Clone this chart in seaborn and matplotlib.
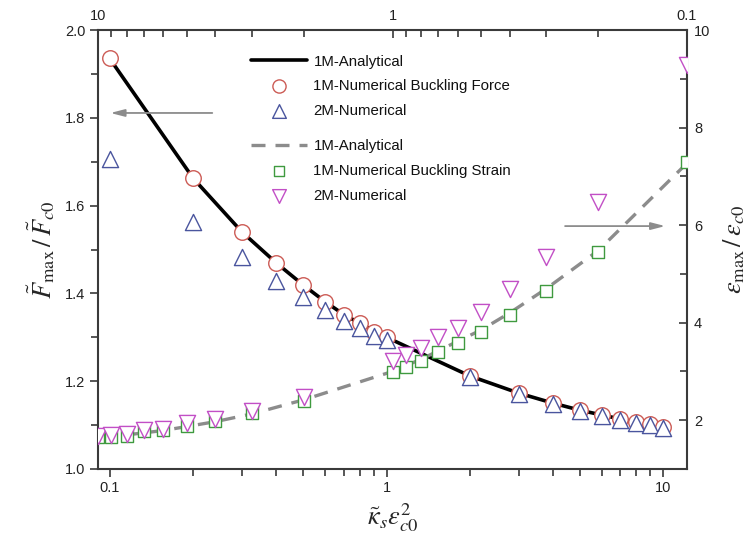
import matplotlib
matplotlib.use("Agg")
import matplotlib.pyplot as plt
import seaborn as sns
from matplotlib.ticker import MultipleLocator, FuncFormatter, NullFormatter, LogLocator, FixedLocator

# ---------------- data ----------------
# Force branch: bottom x axis (kappa_s * eps_c0^2), left y axis
kappa = [0.1, 0.2, 0.3, 0.4, 0.5, 0.6, 0.7, 0.8, 0.9, 1.0,
         2, 3, 4, 5, 6, 7, 8, 9, 10]
F_analytical = [1.934, 1.662, 1.540, 1.469, 1.419, 1.381, 1.352, 1.332, 1.314, 1.300,
                1.212, 1.173, 1.150, 1.134, 1.123, 1.114, 1.107, 1.102, 1.096]
F_1M_num = [1.936, 1.663, 1.540, 1.469, 1.419, 1.380, 1.351, 1.333, 1.312, 1.301,
            1.212, 1.173, 1.150, 1.134, 1.123, 1.114, 1.107, 1.102, 1.096]
F_2M_num = [1.706, 1.563, 1.483, 1.428, 1.392, 1.362, 1.337, 1.321, 1.303, 1.294,
            1.209, 1.170, 1.148, 1.132, 1.121, 1.112, 1.105, 1.100, 1.094]

# Strain branch: top x axis (reversed log), right y axis
t_top = [10, 9, 8, 7, 6, 5, 4, 3, 2, 1.0, 0.9, 0.8, 0.7, 0.6, 0.5, 0.4, 0.3, 0.2, 0.1]
eps_analytical = [1.63, 1.66, 1.70, 1.74, 1.79, 1.87, 1.97, 2.13, 2.42, 3.00,
                  3.12, 3.25, 3.42, 3.62, 3.85, 4.20, 4.70, 5.48, 7.27]
eps_1M_num = [1.65, 1.66, 1.68, 1.77, 1.79, 1.89, 1.98, 2.14, 2.40, 2.98,
              3.10, 3.22, 3.39, 3.59, 3.80, 4.15, 4.64, 5.44, 7.29]
eps_2M_num = [1.68, 1.70, 1.72, 1.80, 1.83, 1.94, 2.03, 2.18, 2.48, 3.22,
              3.33, 3.49, 3.70, 3.90, 4.21, 4.68, 5.34, 6.47, 9.28]

labels_force = ["1M-Analytical", "1M-Numerical Buckling Force", "2M-Numerical"]
labels_strain = ["1M-Analytical", "1M-Numerical Buckling Strain", "2M-Numerical"]

# ---------------- style ----------------
sns.set_theme(style="ticks")
plt.rcParams["font.family"] = ["Liberation Sans", "DejaVu Sans"]
plt.rcParams["mathtext.fontset"] = "stix"

RED = "#cc5b55"
BLUE = "#4a559e"
GREEN = "#3f9a3f"
MAGENTA = "#c24fc6"
GRAY = "#8c8c8c"
SPINE = "#3a3a3a"

fig = plt.figure(figsize=(7.56, 5.5), dpi=100)
pos = [98 / 756, 1 - 469 / 550, (687 - 98) / 756, (469 - 30) / 550]
ax = fig.add_axes(pos)
ax2 = fig.add_axes(pos, facecolor="none")

# ---------------- force branch ----------------
sns.lineplot(x=kappa, y=F_analytical, ax=ax, color="black", linewidth=2.6,
             label=labels_force[0], zorder=2)
sns.scatterplot(x=kappa, y=F_1M_num, ax=ax, marker="o", s=125, color=RED,
                facecolors="white", edgecolors=RED, linewidth=1.0,
                label=labels_force[1], zorder=3)
sns.scatterplot(x=kappa, y=F_2M_num, ax=ax, marker="^", s=135, color=BLUE,
                facecolors="white", edgecolors=BLUE, linewidth=1.0,
                label=labels_force[2], zorder=4)

# ---------------- strain branch ----------------
sns.lineplot(x=t_top, y=eps_analytical, ax=ax2, color=GRAY, linewidth=2.4,
             linestyle=(0, (4.2, 3.0)), label=labels_strain[0], zorder=2)
sns.scatterplot(x=t_top, y=eps_1M_num, ax=ax2, marker="s", s=70, color=GREEN,
                facecolors="white", edgecolors=GREEN, linewidth=1.0,
                label=labels_strain[1], zorder=3)
sns.scatterplot(x=t_top, y=eps_2M_num, ax=ax2, marker="v", s=135, color=MAGENTA,
                facecolors="white", edgecolors=MAGENTA, linewidth=1.0,
                label=labels_strain[2], zorder=4)

h1, l1 = ax.get_legend_handles_labels()
h2, l2 = ax2.get_legend_handles_labels()
for a in (ax, ax2):
    if a.get_legend() is not None:
        a.get_legend().remove()

# ---------------- axes: bottom / left ----------------
ax.set_xscale("log")
ax.set_xlim(0.0905, 12.2)
ax.set_ylim(1.0, 2.0)
ax.xaxis.set_major_locator(FixedLocator([0.1, 1, 10]))
ax.xaxis.set_major_formatter(FuncFormatter(lambda v, p: f"{v:g}"))
ax.xaxis.set_minor_locator(LogLocator(base=10, subs=range(2, 10)))
ax.xaxis.set_minor_formatter(NullFormatter())
ax.yaxis.set_major_locator(MultipleLocator(0.2))
ax.yaxis.set_minor_locator(MultipleLocator(0.1))
ax.yaxis.set_major_formatter(FuncFormatter(lambda v, p: f"{v:.1f}"))
ax.tick_params(which="both", direction="out", color=SPINE, width=1.2,
               labelsize=10.5, labelcolor="#222222", top=False, right=False)
ax.tick_params(which="major", length=6, pad=3)
ax.tick_params(which="minor", length=5)
for s in ax.spines.values():
    s.set_color(SPINE)
    s.set_linewidth(1.5)
    s.set_visible(True)

# ---------------- axes: top / right ----------------
ax2.set_xscale("log")
ax2.set_xlim(10, 0.1)
ax2.set_ylim(1, 10)
ax2.xaxis.tick_top()
ax2.yaxis.tick_right()
ax2.xaxis.set_major_locator(FixedLocator([10, 1, 0.1]))
ax2.xaxis.set_major_formatter(FuncFormatter(lambda v, p: f"{v:g}"))
ax2.xaxis.set_minor_locator(LogLocator(base=10, subs=range(2, 10)))
ax2.xaxis.set_minor_formatter(NullFormatter())
ax2.yaxis.set_major_locator(MultipleLocator(2))
ax2.yaxis.set_minor_locator(MultipleLocator(1))
ax2.yaxis.set_major_formatter(FuncFormatter(lambda v, p: f"{v:g}"))
ax2.tick_params(which="both", direction="in", color=SPINE, width=1.2,
                labelsize=10.5, labelcolor="#222222",
                bottom=False, left=False, top=True, right=True,
                labeltop=True, labelright=True, labelbottom=False, labelleft=False)
ax2.tick_params(which="major", length=6, pad=5)
ax2.tick_params(which="minor", length=5)
for s in ax2.spines.values():
    s.set_visible(False)

# ---------------- labels ----------------
ax.set_ylabel(r"$\tilde{F}_{\mathrm{max}}\,/\,\tilde{F}_{c0}$", fontsize=19, labelpad=6)
ax.set_xlabel(r"$\tilde{\kappa}_s\varepsilon_{c0}^{2}$", fontsize=19, labelpad=4)
ax2.set_xlabel("")
ax2.yaxis.set_label_position("right")
ax2.set_ylabel(r"$\varepsilon_{\mathrm{max}}\,/\,\varepsilon_{c0}$", fontsize=19,
               labelpad=8, rotation=90)

# ---------------- arrows ----------------
ax.annotate("", xy=(0.021, 1.811), xycoords=("axes fraction", "data"),
            xytext=(0.194, 1.811), textcoords=("axes fraction", "data"),
            arrowprops=dict(arrowstyle="-|>,head_length=0.7,head_width=0.18",
                            color=GRAY, lw=1.3, shrinkA=0, shrinkB=0))
ax2.annotate("", xy=(0.963, 5.98), xycoords=("axes fraction", "data"),
             xytext=(0.793, 5.98), textcoords=("axes fraction", "data"),
             arrowprops=dict(arrowstyle="-|>,head_length=0.7,head_width=0.18",
                             color=GRAY, lw=1.3, shrinkA=0, shrinkB=0))

# ---------------- legends ----------------
leg_kw = dict(frameon=False, fontsize=10.8, handlelength=3.7, handletextpad=0.45,
              labelspacing=0.72, borderpad=0, borderaxespad=0, loc="upper left",
              markerscale=0.85)
leg1 = ax2.legend(h1, l1, bbox_to_anchor=(0.260, 0.944), **leg_kw)
ax2.add_artist(leg1)
leg2 = ax2.legend(h2, l2, bbox_to_anchor=(0.260, 0.751), **leg_kw)
for leg in (leg1, leg2):
    for t in leg.get_texts():
        t.set_color("#111111")

fig.savefig("out.png", dpi=100)
